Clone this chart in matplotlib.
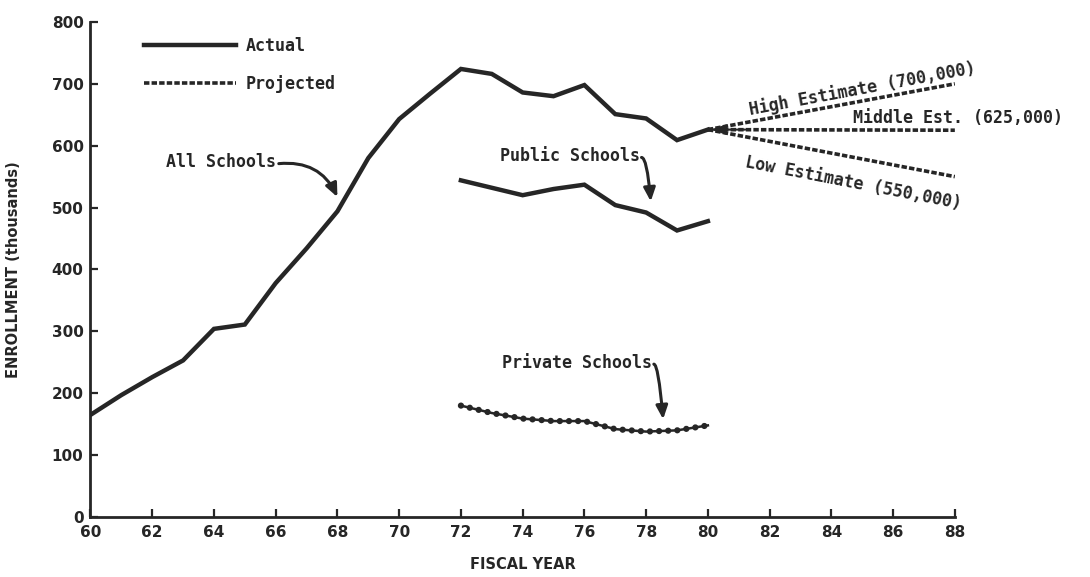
import matplotlib
matplotlib.use("Agg")
import matplotlib.pyplot as plt
import numpy as np

# enrollment in thousands by fiscal year
years_all = [60, 61, 62, 63, 64, 65, 66, 67, 68, 69, 70, 71, 72, 73, 74, 75, 76, 77, 78, 79, 80]
all_schools = [165, 197, 226, 253, 304, 311, 378, 434, 494, 580, 643, 684, 724, 716, 686, 680, 698, 651, 644, 609, 626]

years_split = [72, 73, 74, 75, 76, 77, 78, 79, 80]
public_schools = [544, 532, 520, 530, 537, 504, 492, 463, 478]
private_schools = [180, 168, 159, 155, 155, 142, 138, 140, 148]

proj_years = [80, 88]
high_est = [626, 700]
middle_est = [626, 625]
low_est = [626, 550]

ink = '#262626'
mono = ['DejaVu Sans Mono']

fig = plt.figure(figsize=(10.9, 5.77), dpi=100)
ax = fig.add_axes([0.083, 0.104, 0.793, 0.858])

# actual series
ax.plot(years_all, all_schools, color=ink, lw=3.2, solid_joinstyle='miter', label='Actual')
ax.plot(years_split, public_schools, color=ink, lw=3.2, solid_joinstyle='miter')
# private schools drawn as a beaded line
ax.plot(years_split, private_schools, color=ink, lw=1.8)
ax.plot(years_split, private_schools, color=ink, lw=4.5, ls=(0, (0.01, 1.45)),
        dash_capstyle='round')

# projections
dash = (0, (1.5, 0.6))
ax.plot(proj_years, high_est, color=ink, lw=2.6, ls=dash, label='Projected')
ax.plot(proj_years, middle_est, color=ink, lw=2.6, ls=dash)
ax.plot(proj_years, low_est, color=ink, lw=2.6, ls=dash)
ax.annotate('', xy=(80.0, 626), xytext=(81.3, 626),
            arrowprops=dict(arrowstyle='-|>,head_length=0.9,head_width=0.3',
                            color=ink, lw=1.5))

txt = dict(color=ink, fontsize=12, fontweight='bold', family=mono)
ax.text(85.0, 692, 'High Estimate (700,000)', rotation=10.5, ha='center', va='center', **txt)
ax.text(88.1, 645, 'Middle Est. (625,000)', ha='center', va='center', clip_on=False, **txt)
ax.text(84.7, 540, 'Low Estimate (550,000)', rotation=-11, ha='center', va='center', **txt)

# series labels with curved arrows
arrow = dict(arrowstyle='-|>,head_length=0.8,head_width=0.35', color=ink, lw=2.2,
             shrinkA=0, shrinkB=0)
ax.text(66.0, 573, 'All Schools', ha='right', va='center', **txt)
ax.annotate('', xy=(68.0, 517), xytext=(66.1, 571),
            arrowprops=dict(connectionstyle='arc3,rad=-0.35', **arrow))
ax.text(77.8, 583, 'Public Schools', ha='right', va='center', **txt)
ax.annotate('', xy=(78.15, 510), xytext=(77.85, 581),
            arrowprops=dict(connectionstyle='angle3,angleA=0,angleB=-85', **arrow))
ax.text(78.2, 249, 'Private Schools', ha='right', va='center', **txt)
ax.annotate('', xy=(78.55, 158), xytext=(78.25, 247),
            arrowprops=dict(connectionstyle='angle3,angleA=0,angleB=-85', **arrow))

ax.set_xlim(60, 88)
ax.set_ylim(0, 800)
ax.set_xticks(np.arange(60, 89, 2))
ax.set_yticks(np.arange(0, 801, 100))
for lab in ax.get_xticklabels() + ax.get_yticklabels():
    lab.set_fontweight('bold')
    lab.set_fontsize(11)
    lab.set_color(ink)
ax.tick_params(direction='in', length=6, width=1.6, color=ink)
ax.tick_params(axis='x', pad=6)
ax.tick_params(axis='y', pad=5)
for side in ['top', 'right']:
    ax.spines[side].set_visible(False)
for side in ['left', 'bottom']:
    ax.spines[side].set_linewidth(2)
    ax.spines[side].set_color(ink)

ax.set_xlabel('FISCAL YEAR', fontweight='bold', fontsize=10.5, color=ink, labelpad=12)
ax.set_ylabel('ENROLLMENT (thousands)', fontweight='bold', fontsize=10.5,
              color=ink, labelpad=22)

leg = ax.legend(loc='upper left', bbox_to_anchor=(0.045, 1.0), frameon=False, handlelength=5.5,
                handletextpad=0.6, labelspacing=1.2, prop=dict(family=mono, weight='bold', size=12))
for t in leg.get_texts():
    t.set_color(ink)

fig.savefig('out.png', dpi=100, facecolor='white')
